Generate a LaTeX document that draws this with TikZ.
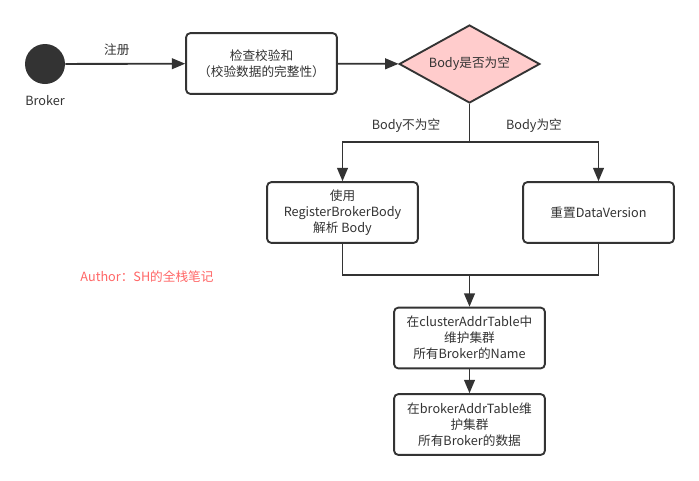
\documentclass[tikz,border=0pt]{standalone}
\usepackage{fontspec}
\newfontfamily\cjk{Noto Sans CJK SC}
\usetikzlibrary{arrows.meta,shapes.geometric}
\definecolor{ink}{HTML}{333333}
\definecolor{rosa}{HTML}{FFCCCC}
\definecolor{signred}{HTML}{FF6666}
\tikzset{
	every node/.style={font=\cjk\fontsize{9.5}{12}\selectfont, text=ink},
	flow/.style={draw=ink, line width=1.4pt},
	arr/.style={flow, -{Triangle[length=10pt,width=8pt]}},
	box/.style={draw=ink, line width=1.4pt, rounded corners=3pt, fill=white,
		minimum width=113pt, minimum height=45.5pt, align=center, inner sep=1pt},
	decide/.style={diamond, draw=ink, line width=1.4pt, fill=rosa, inner sep=0pt,
		aspect=1.8, minimum width=105.5pt, minimum height=58.5pt}
}
\begin{document}
\begin{tikzpicture}[x=0.75pt,y=-0.75pt]
		\useasboundingbox (0,0) rectangle (699,480);
		\node[circle, fill=ink, minimum size=30pt, inner sep=0pt] (broker) at (45,64) {};
		\node (brokername) at (45,101) {Broker};
		\node[box] (check) at (261.5,63.5) {检查校验和\\（校验数据的完整性）};
		\node[decide] (cond) at (469.5,64) {Body是否为空};
		\node[box] (parse) at (342.5,212.5) {使用\\RegisterBrokerBody\\解析 Body};
		\node[box] (reset) at (598.5,212.5) {重置DataVersion};
		\node[box] (cluster) at (469.5,338) {在clusterAddrTable中\\维护集群\\所有Broker的Name};
		\node[box] (brokerdata) at (469.5,424.5) {在brokerAddrTable维\\护集群\\所有Broker的数据};
		\node[text=signred] (author) at (147,277) {Author：SH的全栈笔记};
		\coordinate (split) at (469.5,142);
		\coordinate (merge) at (469.5,275);
		\draw[arr] (broker) -- node[above=2pt, pos=0.43] {注册} (check);
		\draw[arr] (check) -- (cond);
		\draw[flow] (cond.south) -- (split);
		\draw[arr] (split) -| node[pos=0.25, above=3pt] {Body不为空} (parse.north);
		\draw[arr] (split) -| node[pos=0.25, above=3pt] {Body为空} (reset.north);
		\draw[flow] (parse.south) |- (merge);
		\draw[flow] (reset.south) |- (merge);
		\draw[arr] (merge) -- (cluster.north);
		\draw[arr] (cluster) -- (brokerdata);
		\end{tikzpicture}
\end{document}
